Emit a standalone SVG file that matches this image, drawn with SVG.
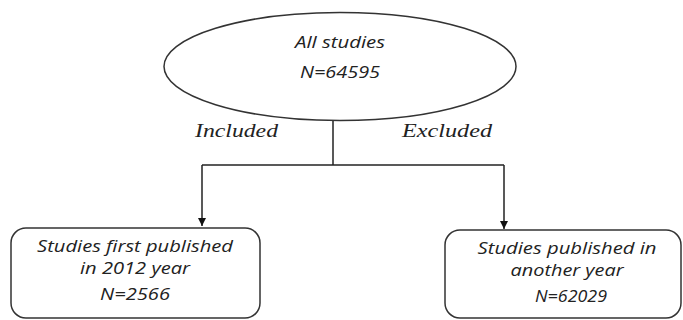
<svg xmlns="http://www.w3.org/2000/svg" width="683" height="320" viewBox="0 0 683 320">
<style>
.shape{fill:#fff;stroke:#333;stroke-width:1.5}
.t{font-family:"Open Sans","Noto Sans",sans-serif;font-style:italic;font-size:16.5px;fill:#222;text-anchor:middle}
.lbl{font-family:"Liberation Serif","Times New Roman",serif;font-style:italic;font-size:18px;fill:#222}
.conn{fill:none;stroke:#222;stroke-width:1.5}
</style>
<defs>
<marker id="arr" viewBox="0 0 10 10" refX="10" refY="5" markerWidth="8" markerHeight="8" orient="auto" markerUnits="userSpaceOnUse">
<path d="M0,0 L10,5 L0,10 z" fill="#111"/>
</marker>
</defs>
<rect width="683" height="320" fill="#fff"/>
<g id="connectors">
<path class="conn" d="M333,120 V165"/>
<path class="conn" d="M202,165 H504"/>
<path class="conn" d="M202,165 V226" marker-end="url(#arr)"/>
<path class="conn" d="M504,165 V229" marker-end="url(#arr)"/>
<text class="lbl" x="195" y="137" textLength="83" lengthAdjust="spacingAndGlyphs">Included</text>
<text class="lbl" x="402" y="137" textLength="90" lengthAdjust="spacingAndGlyphs">Excluded</text>
</g>
<g id="all-studies">
<ellipse class="shape" cx="340" cy="66.5" rx="176" ry="54"/>
<text class="t" x="340" y="48" textLength="90" lengthAdjust="spacingAndGlyphs">All studies</text>
<text class="t" x="340" y="78" textLength="80" lengthAdjust="spacingAndGlyphs">N=64595</text>
</g>
<g id="included">
<rect class="shape" x="11" y="228" width="249" height="90" rx="15"/>
<text class="t" x="135" y="252" textLength="196" lengthAdjust="spacingAndGlyphs">Studies first published</text>
<text class="t" x="135" y="274" textLength="110" lengthAdjust="spacingAndGlyphs">in 2012 year</text>
<text class="t" x="135" y="300" textLength="70" lengthAdjust="spacingAndGlyphs">N=2566</text>
</g>
<g id="excluded">
<rect class="shape" x="445" y="230" width="236" height="88" rx="15"/>
<text class="t" x="567" y="254" textLength="179" lengthAdjust="spacingAndGlyphs">Studies published in</text>
<text class="t" x="567" y="276" textLength="113" lengthAdjust="spacingAndGlyphs">another year</text>
<text class="t" x="571" y="302" textLength="72" lengthAdjust="spacingAndGlyphs">N=62029</text>
</g>
</svg>
